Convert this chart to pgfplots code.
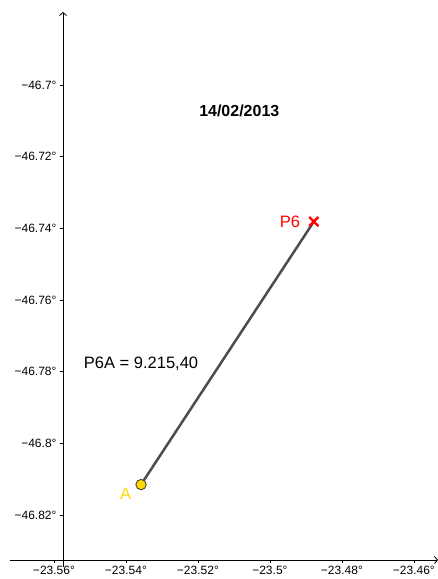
\documentclass[border=0pt]{standalone}
\usepackage{fontspec}
\setmainfont{Liberation Sans}
\usepackage{pgfplots}
\pgfplotsset{compat=1.18}
\usetikzlibrary{arrows.meta}
\definecolor{seg}{RGB}{77,77,77}
\definecolor{gold}{RGB}{255,215,0}
\begin{document}
\begin{tikzpicture}
\useasboundingbox (-10pt,-12pt) rectangle (428pt,567pt);
\begin{axis}[
  scale only axis, width=428pt, height=555pt,
  xmin=-23.5722, xmax=-23.4533, ymin=-46.8345, ymax=-46.6796,
  axis x line=bottom, axis y line=left,
  axis x line shift=-7pt, axis y line shift=-53pt,
  x axis line style={-{Straight Barb[length=3pt,width=7pt]}},
  y axis line style={-{Straight Barb[length=3pt,width=7pt]}},
  axis line style={line width=0.8pt},
  tick align=outside, major tick length=3pt,
  tick style={black, line width=0.6pt},
  xtick={-23.56,-23.54,-23.52,-23.5,-23.48,-23.46},
  xticklabels={−23.56°,−23.54°,−23.52°,−23.5°,−23.48°,−23.46°},
  ytick={-46.82,-46.8,-46.78,-46.76,-46.74,-46.72,-46.7},
  yticklabels={−46.82°,−46.8°,−46.78°,−46.76°,−46.74°,−46.72°,−46.7°},
  ticklabel style={font=\fontsize{12}{14}\selectfont},
  clip=false,
]
\addplot[seg, line width=2.5pt] coordinates {(-23.5358,-46.8115) (-23.4878,-46.7381)};
\addplot[only marks, mark=*, mark size=5.2pt, mark options={fill=gold, draw=black!80, line width=0.8pt}] coordinates {(-23.5358,-46.8115)};
\addplot[only marks, mark=x, mark size=6.5pt, mark options={draw=red, line width=2.4pt}] coordinates {(-23.4878,-46.7381)};
\node[text=gold, font=\fontsize{16.5}{19}\selectfont] at (axis cs:-23.5401,-46.814) {A};
\node[text=red, font=\fontsize{16.5}{19}\selectfont] at (axis cs:-23.4944,-46.7381) {P6};
\node[font=\fontsize{16.5}{19}\selectfont] at (axis cs:-23.5358,-46.7777) {P6A = 9.215,40};
\node[font=\fontsize{16}{19}\selectfont\bfseries] at (axis cs:-23.5085,-46.7072) {14/02/2013};
\end{axis}
\end{tikzpicture}
\end{document}
